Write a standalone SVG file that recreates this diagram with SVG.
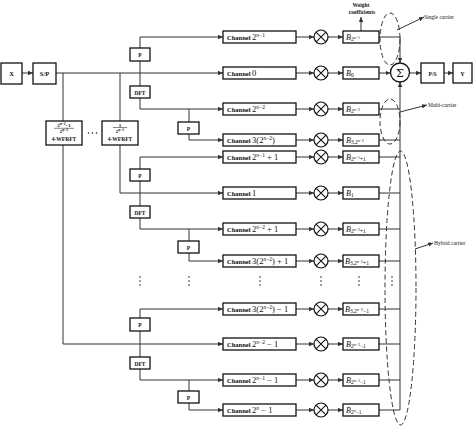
<svg xmlns="http://www.w3.org/2000/svg" width="473" height="426" viewBox="0 0 473 426">
<style>
.box{fill:#fff;stroke:#111;stroke-width:1.3}
.ln{fill:none;stroke:#333;stroke-width:1}
.dash{fill:none;stroke:#333;stroke-width:1;stroke-dasharray:5 3}
.t{font-family:"Liberation Serif",serif;font-weight:bold;font-size:6.5px;fill:#111}
.lb{font-family:"Liberation Serif",serif;font-size:6px;fill:#111}
.m{font-family:"Liberation Serif",serif;font-weight:normal;font-size:8.5px;fill:#111}
.sup{font-family:"Liberation Serif",serif;font-weight:normal;font-size:5.5px;fill:#111}
.b{font-family:"Liberation Serif",serif;font-style:italic;font-size:8px;fill:#111}
.s1{font-style:normal;font-size:5.5px;fill:#111}
.s2{font-style:normal;font-size:4px;fill:#111}
.fr{font-family:"Liberation Serif",serif;font-weight:bold;font-size:5px;fill:#111}
.frs{font-size:3.6px}
.dot{fill:#222}
</style>
<defs>
<marker id="ah" viewBox="0 0 6 6" refX="6" refY="3" markerWidth="5" markerHeight="5" markerUnits="userSpaceOnUse" orient="auto"><path d="M0,0.3 L6,3 L0,5.7 z" fill="#333"/></marker>
<g id="mulsym"><circle r="7" fill="#fff" stroke="#111" stroke-width="1.2"/><path d="M-4.95,-4.95 L4.95,4.95 M4.95,-4.95 L-4.95,4.95" stroke="#111" stroke-width="1.1"/></g>
</defs>

<g id="connectors">
<path class="ln" d="M22,73 H33" marker-end="url(#ah)"/>
<path class="ln" d="M56,73 H223" marker-end="url(#ah)"/>
<path class="ln" d="M63,73 V121"/>
<path class="ln" d="M63,145 V344 H223" marker-end="url(#ah)"/>
<path class="ln" d="M120,73 V121"/>
<path class="ln" d="M120,145 V193 H223" marker-end="url(#ah)"/>
<path class="ln" d="M140,73 V37 H223" marker-end="url(#ah)"/>
<path class="ln" d="M140,73 V109 H223" marker-end="url(#ah)"/>
<path class="ln" d="M189,109 V140 H223" marker-end="url(#ah)"/>
<path class="ln" d="M140,193 V157 H223" marker-end="url(#ah)"/>
<path class="ln" d="M140,193 V229 H223" marker-end="url(#ah)"/>
<path class="ln" d="M189,229 V261 H223" marker-end="url(#ah)"/>
<path class="ln" d="M140,344 V309 H223" marker-end="url(#ah)"/>
<path class="ln" d="M140,344 V380 H223" marker-end="url(#ah)"/>
<path class="ln" d="M189,380 V410 H223" marker-end="url(#ah)"/>
<g marker-end="url(#ah)">
<path class="ln" d="M296,37 H314"/><path class="ln" d="M328,37 H343"/>
<path class="ln" d="M296,73 H314"/><path class="ln" d="M328,73 H343"/>
<path class="ln" d="M296,109 H314"/><path class="ln" d="M328,109 H343"/>
<path class="ln" d="M296,140 H314"/><path class="ln" d="M328,140 H343"/>
<path class="ln" d="M296,157 H314"/><path class="ln" d="M328,157 H343"/>
<path class="ln" d="M296,193 H314"/><path class="ln" d="M328,193 H343"/>
<path class="ln" d="M296,229 H314"/><path class="ln" d="M328,229 H343"/>
<path class="ln" d="M296,261 H314"/><path class="ln" d="M328,261 H343"/>
<path class="ln" d="M296,309 H314"/><path class="ln" d="M328,309 H343"/>
<path class="ln" d="M296,344 H314"/><path class="ln" d="M328,344 H343"/>
<path class="ln" d="M296,380 H314"/><path class="ln" d="M328,380 H343"/>
<path class="ln" d="M296,410 H314"/><path class="ln" d="M328,410 H343"/>
<path class="ln" d="M379,37 H400 V63"/>
<path class="ln" d="M379,73 H390.5"/>
<path class="ln" d="M400,410 V82"/>
<path class="ln" d="M409.5,73 H421"/>
<path class="ln" d="M444,73 H453"/>
<path class="ln" d="M361,31 V17"/>
<path class="ln" d="M397,30 L424,17"/>
<path class="ln" d="M400,112 L427,105"/>
<path class="ln" d="M415,249 L433,243"/>
</g>
<path class="ln" d="M379,109 H400 M379,140 H400 M379,157 H400 M379,193 H400 M379,229 H400 M379,261 H400 M379,309 H400 M379,344 H400 M379,380 H400 M379,410 H400"/>
</g>

<g id="ellipses">
<ellipse class="dash" cx="390" cy="39" rx="10" ry="26"/>
<ellipse class="dash" cx="390" cy="121.5" rx="10" ry="22.5"/>
<ellipse class="dash" cx="400.5" cy="288" rx="15.5" ry="137"/>
</g>

<g id="X"><rect class="box" x="1" y="63" width="21" height="21"/><text class="t" x="11.5" y="75.5" text-anchor="middle">X</text></g>
<g id="SP"><rect class="box" x="33" y="63" width="23" height="21"/><text class="t" x="44.5" y="75.5" text-anchor="middle">S/P</text></g>

<g id="wfrft1"><rect class="box" x="46" y="121" width="36" height="24"/>
<text class="fr" x="64" y="127" text-anchor="middle">2<tspan class="frs" dy="-1.6">n−2</tspan><tspan dy="1.6">−1</tspan></text>
<path d="M54,128.3 H74" stroke="#111" stroke-width="0.5"/>
<text class="fr" x="64" y="133" text-anchor="middle">2<tspan class="frs" dy="-1.6">n−2</tspan></text>
<text class="t" x="64" y="140.5" text-anchor="middle" style="font-size:5.5px">4-WFRFT</text></g>
<g id="dotsh"><circle class="dot" cx="88.5" cy="133" r="0.8"/><circle class="dot" cx="92.5" cy="133" r="0.8"/><circle class="dot" cx="96.5" cy="133" r="0.8"/></g>
<g id="wfrft2"><rect class="box" x="102" y="121" width="36" height="24"/>
<text class="fr" x="120" y="126.5" text-anchor="middle">1</text>
<path d="M113,127.5 H127" stroke="#111" stroke-width="0.5"/>
<text class="fr" x="120" y="132.5" text-anchor="middle">2<tspan class="frs" dy="-1.6">n−2</tspan></text>
<text class="t" x="120" y="140.5" text-anchor="middle" style="font-size:5.5px">4-WFRFT</text></g>

<g id="P1"><rect class="box" x="130" y="48" width="20" height="13"/><text class="t" x="140" y="57" text-anchor="middle" style="font-size:5.5px">P</text></g>
<g id="DFT1"><rect class="box" x="130" y="86" width="20" height="12"/><text class="t" x="140" y="94.5" text-anchor="middle" style="font-size:5.5px">DFT</text></g>
<g id="Ps1"><rect class="box" x="178" y="122" width="21" height="12"/><text class="t" x="188.5" y="130.5" text-anchor="middle" style="font-size:5.5px">P</text></g>
<g id="P2"><rect class="box" x="130" y="169" width="20" height="12"/><text class="t" x="140" y="177.5" text-anchor="middle" style="font-size:5.5px">P</text></g>
<g id="DFT2"><rect class="box" x="130" y="206" width="20" height="12"/><text class="t" x="140" y="214.5" text-anchor="middle" style="font-size:5.5px">DFT</text></g>
<g id="Ps2"><rect class="box" x="178" y="241" width="21" height="12"/><text class="t" x="188.5" y="249.5" text-anchor="middle" style="font-size:5.5px">P</text></g>
<g id="P3"><rect class="box" x="130" y="318" width="20" height="13"/><text class="t" x="140" y="327" text-anchor="middle" style="font-size:5.5px">P</text></g>
<g id="DFT3"><rect class="box" x="130" y="357" width="20" height="12"/><text class="t" x="140" y="365.5" text-anchor="middle" style="font-size:5.5px">DFT</text></g>
<g id="Ps3"><rect class="box" x="178" y="391" width="21" height="12"/><text class="t" x="188.5" y="399.5" text-anchor="middle" style="font-size:5.5px">P</text></g>

<g id="channels">
<g id="ch1"><rect class="box" x="223" y="31" width="73" height="12"/><text class="t" x="227" y="39.5">Channel <tspan class="m">2</tspan><tspan class="sup" dy="-3"><tspan font-style="italic">n</tspan>−1</tspan></text></g>
<g id="ch2"><rect class="box" x="223" y="67" width="73" height="12"/><text class="t" x="227" y="75.5">Channel <tspan class="m">0</tspan></text></g>
<g id="ch3"><rect class="box" x="223" y="103" width="73" height="12"/><text class="t" x="227" y="111.5">Channel <tspan class="m">2</tspan><tspan class="sup" dy="-3"><tspan font-style="italic">n</tspan>−2</tspan></text></g>
<g id="ch4"><rect class="box" x="223" y="134" width="73" height="12"/><text class="t" x="227" y="142.5">Channel <tspan class="m">3(2</tspan><tspan class="sup" dy="-3"><tspan font-style="italic">n</tspan>−2</tspan><tspan class="m" dy="3">)</tspan></text></g>
<g id="ch5"><rect class="box" x="223" y="151" width="73" height="12"/><text class="t" x="227" y="159.5">Channel <tspan class="m">2</tspan><tspan class="sup" dy="-3"><tspan font-style="italic">n</tspan>−1</tspan><tspan class="m" dy="3"> + 1</tspan></text></g>
<g id="ch6"><rect class="box" x="223" y="187" width="73" height="12"/><text class="t" x="227" y="195.5">Channel <tspan class="m">1</tspan></text></g>
<g id="ch7"><rect class="box" x="223" y="223" width="73" height="12"/><text class="t" x="227" y="231.5">Channel <tspan class="m">2</tspan><tspan class="sup" dy="-3"><tspan font-style="italic">n</tspan>−2</tspan><tspan class="m" dy="3"> + 1</tspan></text></g>
<g id="ch8"><rect class="box" x="223" y="255" width="73" height="12"/><text class="t" x="227" y="263.5">Channel <tspan class="m">3(2</tspan><tspan class="sup" dy="-3"><tspan font-style="italic">n</tspan>−2</tspan><tspan class="m" dy="3">) + 1</tspan></text></g>
<g id="ch9"><rect class="box" x="223" y="303" width="73" height="12"/><text class="t" x="227" y="311.5">Channel <tspan class="m">3(2</tspan><tspan class="sup" dy="-3"><tspan font-style="italic">n</tspan>−2</tspan><tspan class="m" dy="3">) − 1</tspan></text></g>
<g id="ch10"><rect class="box" x="223" y="338" width="73" height="12"/><text class="t" x="227" y="346.5">Channel <tspan class="m">2</tspan><tspan class="sup" dy="-3"><tspan font-style="italic">n</tspan>−2</tspan><tspan class="m" dy="3"> − 1</tspan></text></g>
<g id="ch11"><rect class="box" x="223" y="374" width="73" height="12"/><text class="t" x="227" y="382.5">Channel  <tspan class="m">2</tspan><tspan class="sup" dy="-3"><tspan font-style="italic">n</tspan>−1</tspan><tspan class="m" dy="3"> − 1</tspan></text></g>
<g id="ch12"><rect class="box" x="223" y="404" width="73" height="12"/><text class="t" x="227" y="412.5">Channel  <tspan class="m">2</tspan><tspan class="sup" dy="-3" font-style="italic">n</tspan><tspan class="m" dy="3"> − 1</tspan></text></g>
</g>

<g id="multipliers">
<use href="#mulsym" x="321" y="37"/><use href="#mulsym" x="321" y="73"/><use href="#mulsym" x="321" y="109"/><use href="#mulsym" x="321" y="140"/>
<use href="#mulsym" x="321" y="157"/><use href="#mulsym" x="321" y="193"/><use href="#mulsym" x="321" y="229"/><use href="#mulsym" x="321" y="261"/>
<use href="#mulsym" x="321" y="309"/><use href="#mulsym" x="321" y="344"/><use href="#mulsym" x="321" y="380"/><use href="#mulsym" x="321" y="410"/>
</g>

<g id="weights">
<g id="B1"><rect class="box" x="343" y="31" width="36" height="12"/><text class="b" x="346" y="39.5">B<tspan class="s1" dy="1.8">2</tspan><tspan class="s2" dy="-2">n−1</tspan></text></g>
<g id="B2"><rect class="box" x="343" y="67" width="36" height="12"/><text class="b" x="346" y="75.5">B<tspan class="s1" dy="1.8">0</tspan></text></g>
<g id="B3"><rect class="box" x="343" y="103" width="36" height="12"/><text class="b" x="346" y="111.5">B<tspan class="s1" dy="1.8">2</tspan><tspan class="s2" dy="-2">n−2</tspan></text></g>
<g id="B4"><rect class="box" x="343" y="134" width="36" height="12"/><text class="b" x="346" y="142.5">B<tspan class="s1" dy="1.8">3.2</tspan><tspan class="s2" dy="-2">n−2</tspan></text></g>
<g id="B5"><rect class="box" x="343" y="151" width="36" height="12"/><text class="b" x="346" y="159.5">B<tspan class="s1" dy="1.8">2</tspan><tspan class="s2" dy="-2">n−1</tspan><tspan class="s1" dy="2">+1</tspan></text></g>
<g id="B6"><rect class="box" x="343" y="187" width="36" height="12"/><text class="b" x="346" y="195.5">B<tspan class="s1" dy="1.8">1</tspan></text></g>
<g id="B7"><rect class="box" x="343" y="223" width="36" height="12"/><text class="b" x="346" y="231.5">B<tspan class="s1" dy="1.8">2</tspan><tspan class="s2" dy="-2">n−2</tspan><tspan class="s1" dy="2">+1</tspan></text></g>
<g id="B8"><rect class="box" x="343" y="255" width="36" height="12"/><text class="b" x="345" y="263.5">B<tspan class="s1" dy="1.8">3.2</tspan><tspan class="s2" dy="-2">n−2</tspan><tspan class="s1" dy="2">+1</tspan></text></g>
<g id="B9"><rect class="box" x="343" y="303" width="36" height="12"/><text class="b" x="345" y="311.5">B<tspan class="s1" dy="1.8">3.2</tspan><tspan class="s2" dy="-2">n−2</tspan><tspan class="s1" dy="2">−1</tspan></text></g>
<g id="B10"><rect class="box" x="343" y="338" width="36" height="12"/><text class="b" x="346" y="346.5">B<tspan class="s1" dy="1.8">2</tspan><tspan class="s2" dy="-2">n−2</tspan><tspan class="s1" dy="2">−1</tspan></text></g>
<g id="B11"><rect class="box" x="343" y="374" width="36" height="12"/><text class="b" x="346" y="382.5">B<tspan class="s1" dy="1.8">2</tspan><tspan class="s2" dy="-2">n−1</tspan><tspan class="s1" dy="2">−1</tspan></text></g>
<g id="B12"><rect class="box" x="343" y="404" width="36" height="12"/><text class="b" x="346" y="412.5">B<tspan class="s1" dy="1.8">2</tspan><tspan class="s2" dy="-2">n</tspan><tspan class="s1" dy="2">−1</tspan></text></g>
</g>

<g id="sum"><circle cx="400" cy="72.5" r="9.5" fill="#fff" stroke="#111" stroke-width="1.3"/><text x="400" y="76.5" text-anchor="middle" style="font-family:'DejaVu Serif',serif;font-size:11px" fill="#111">Σ</text></g>
<g id="PS"><rect class="box" x="421" y="63" width="23" height="20"/><text class="t" x="432.5" y="75.5" text-anchor="middle" style="font-size:5.5px">P/S</text></g>
<g id="Y"><rect class="box" x="453" y="63" width="19" height="20"/><text class="t" x="462.5" y="75.5" text-anchor="middle" style="font-size:6px">Y</text></g>

<g id="labels">
<text class="t" x="361" y="7" text-anchor="middle" style="font-size:5.5px">Weight</text>
<text class="t" x="362" y="14" text-anchor="middle" style="font-size:5.5px">coefficients</text>
<text class="lb" x="424" y="19" style="font-size:5.5px">Single carrier</text>
<text class="lb" x="428" y="107" style="font-size:5.5px">Multi-carrier</text>
<text class="lb" x="434" y="245" style="font-size:5.5px">Hybrid carrier</text>
</g>

<g id="vdots">
<circle class="dot" cx="140" cy="277" r="0.8"/><circle class="dot" cx="140" cy="281" r="0.8"/><circle class="dot" cx="140" cy="285" r="0.8"/>
<circle class="dot" cx="189" cy="277" r="0.8"/><circle class="dot" cx="189" cy="281" r="0.8"/><circle class="dot" cx="189" cy="285" r="0.8"/>
<circle class="dot" cx="260" cy="277" r="0.8"/><circle class="dot" cx="260" cy="281" r="0.8"/><circle class="dot" cx="260" cy="285" r="0.8"/>
<circle class="dot" cx="321" cy="277" r="0.8"/><circle class="dot" cx="321" cy="281" r="0.8"/><circle class="dot" cx="321" cy="285" r="0.8"/>
<circle class="dot" cx="359" cy="277" r="0.8"/><circle class="dot" cx="359" cy="281" r="0.8"/><circle class="dot" cx="359" cy="285" r="0.8"/>
<circle class="dot" cx="392" cy="277" r="0.8"/><circle class="dot" cx="392" cy="281" r="0.8"/><circle class="dot" cx="392" cy="285" r="0.8"/>
</g>
</svg>
